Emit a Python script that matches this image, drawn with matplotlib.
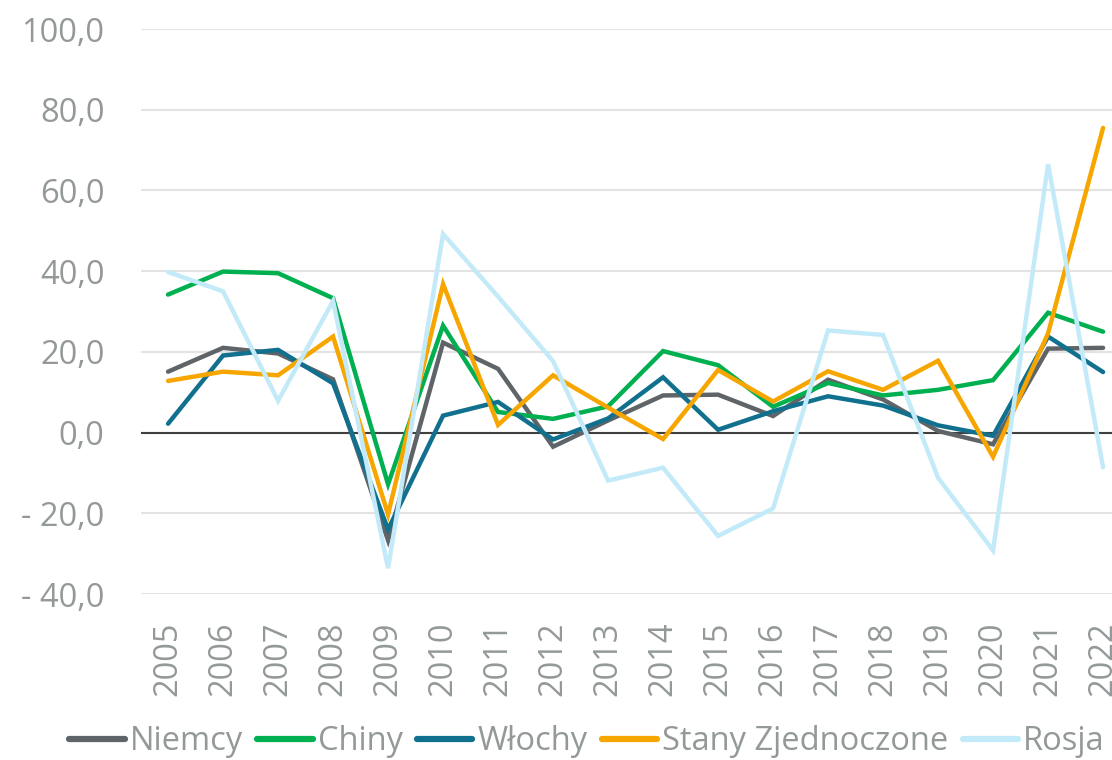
import matplotlib
matplotlib.use("Agg")
import matplotlib.pyplot as plt
from matplotlib.ticker import FuncFormatter

years = [str(y) for y in range(2005, 2023)]
niemcy = [15.1, 21.0, 19.6, 13.2, -26.7, 22.3, 15.8, -3.5, 3.0, 9.2, 9.4, 4.1, 13.1, 8.2, 0.4, -2.9, 20.8, 21.0]
chiny = [34.2, 39.9, 39.5, 33.3, -12.8, 26.5, 5.1, 3.4, 6.5, 20.2, 16.7, 6.4, 12.3, 9.2, 10.6, 13.0, 29.7, 25.0]
wlochy = [2.2, 19.1, 20.5, 12.2, -24.0, 4.2, 7.6, -1.7, 3.5, 13.7, 0.7, 5.3, 9.0, 6.7, 1.8, -0.8, 23.8, 15.0]
usa = [12.8, 15.1, 14.2, 23.8, -20.3, 36.8, 1.9, 14.2, 6.2, -1.6, 15.5, 7.7, 15.2, 10.6, 17.8, -6.0, 24.6, 75.5]
rosja = [39.8, 35.0, 7.9, 32.6, -33.6, 49.2, 33.7, 17.7, -11.9, -8.7, -25.6, -18.8, 25.3, 24.2, -11.2, -29.2, 66.5, -8.6]

series = [
    ("Niemcy", niemcy, "#5f6468"),
    ("Chiny", chiny, "#00b050"),
    ("Włochy", wlochy, "#12708f"),
    ("Stany Zjednoczone", usa, "#f7a600"),
    ("Rosja", rosja, "#c3eaf8"),
]

plt.rcParams['font.family'] = ['Open Sans', 'DejaVu Sans']
fig = plt.figure(figsize=(11.12, 7.6), dpi=100)
ax = fig.add_axes([0.1264, 0.2184, 0.8903, 0.7434])

x = list(range(len(years)))
for name, vals, col in series:
    ax.plot(x, vals, color=col, lw=3.2, label=name, solid_capstyle='round', solid_joinstyle='miter')

ax.set_ylim(-40, 100)
ax.set_xlim(-0.5, len(years) - 0.5)
ax.set_yticks(range(-40, 101, 20))
def fmt(v, pos):
    if v < 0:
        return "- " + f"{abs(v):.1f}".replace(".", ",")
    return f"{v:.1f}".replace(".", ",")
ax.yaxis.set_major_formatter(FuncFormatter(fmt))
ax.set_xticks(x)
ax.set_xticklabels(years, rotation=90)
ax.grid(axis='y', color='#e3e3e3', lw=1.5)
ax.set_axisbelow(True)
ax.axhline(0, color='#404040', lw=1.5, zorder=1.5)
for s in ax.spines.values():
    s.set_visible(False)
ax.tick_params(axis='both', length=0, colors='#939899', labelsize=23.5)
ax.tick_params(axis='y', pad=26)
ax.tick_params(axis='x', pad=20)

leg = fig.legend(loc='center', bbox_to_anchor=(0.528, 1 - 742 / 760), ncol=5, frameon=False,
                 fontsize=23.5, handlelength=1.69, handletextpad=0.15, columnspacing=0.45,
                 labelcolor='#939899', borderpad=0)
for line in leg.get_lines():
    line.set_linewidth(4.5)
    line.set_solid_capstyle('round')

fig.savefig("out.png", dpi=100)
